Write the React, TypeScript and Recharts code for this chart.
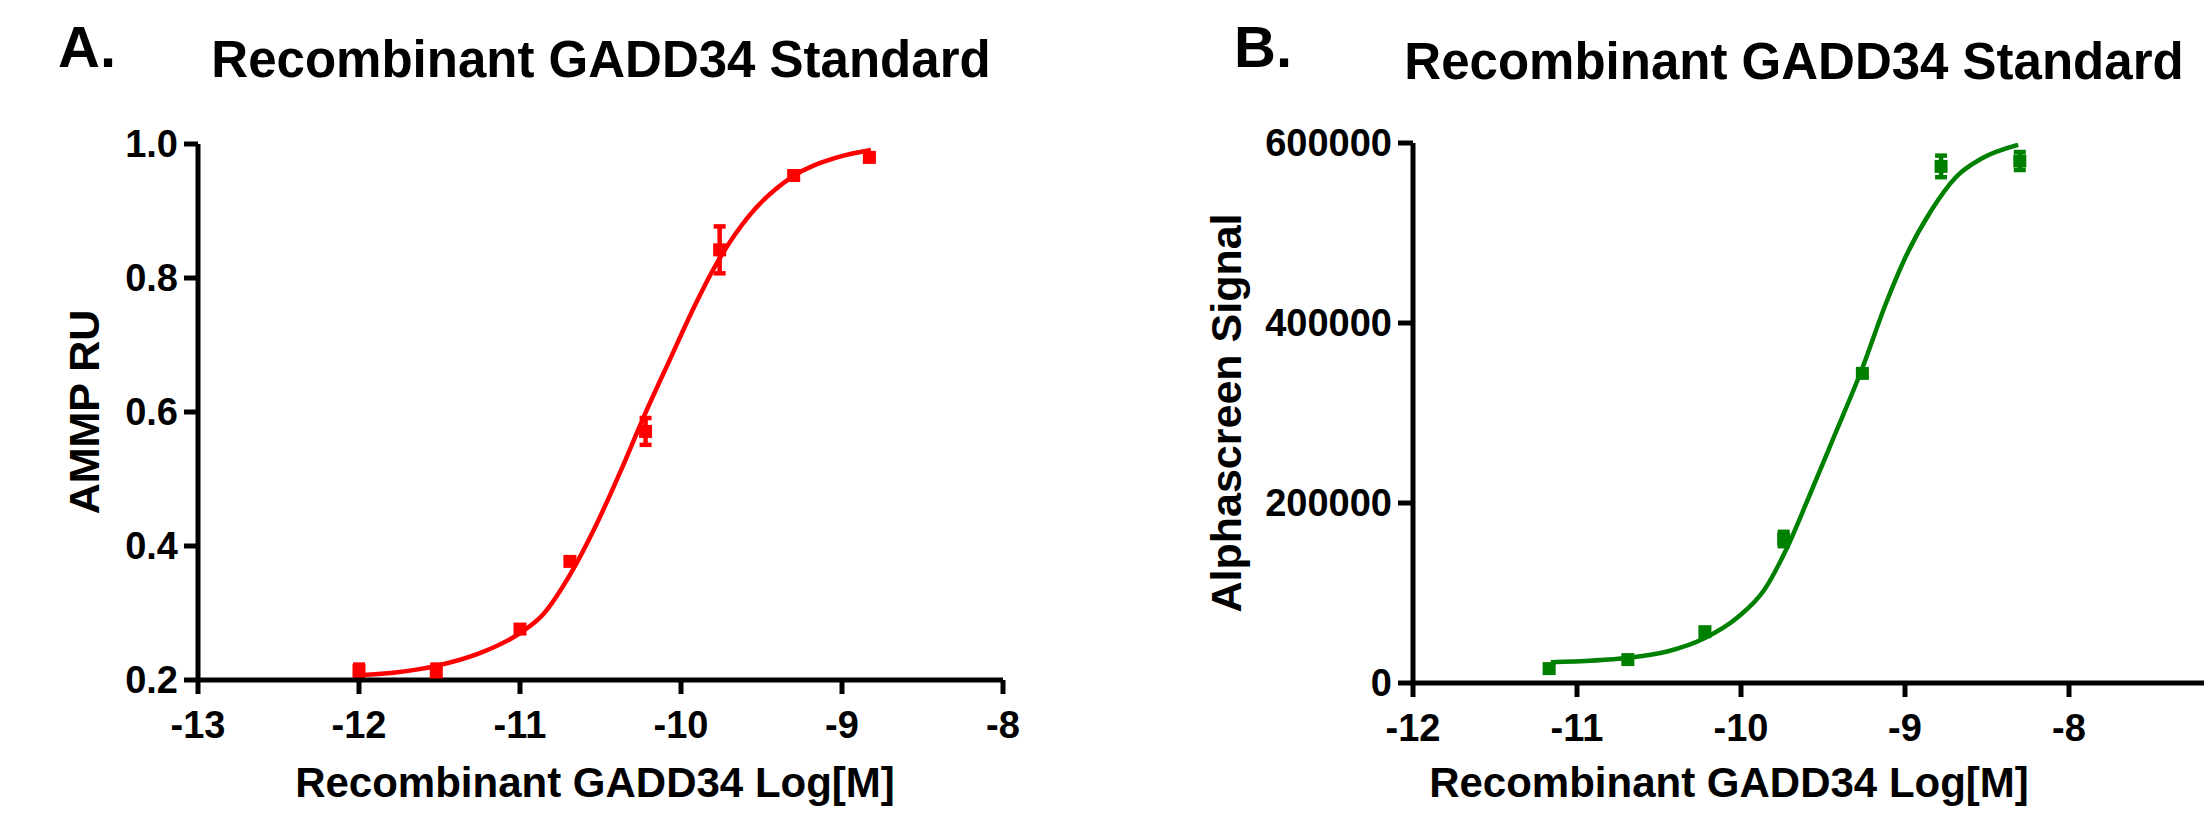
import { ComposedChart, Line, Scatter, ErrorBar, XAxis, YAxis } from 'recharts';

const FONT = '"Liberation Sans", Arial, sans-serif';

// Panel A: AMMP RU vs log concentration
const concA = [-12.0, -11.52, -11.0, -10.69, -10.22, -9.76, -9.3, -8.83];
const ammpA = [0.214, 0.212, 0.276, 0.377, 0.571, 0.842, 0.953, 0.98];
const ammpErrA = [0.009, 0.011, 0.004, 0.004, 0.02, 0.035, 0.004, 0.004];
const fitXA = [-12.0, -11.52, -11.25, -11.0, -10.86, -10.69, -10.53, -10.36, -10.24, -10.06, -9.92, -9.78, -9.58, -9.31, -9.03, -8.82];
const fitYA = [0.207, 0.221, 0.24, 0.27, 0.297, 0.357, 0.43, 0.52, 0.588, 0.683, 0.756, 0.821, 0.892, 0.951, 0.98, 0.991];
const xTicksA = [-13, -12, -11, -10, -9, -8];
const yTicksA = [0.2, 0.4, 0.6, 0.8, 1.0];

// Panel B: Alphascreen signal vs log concentration
const concB = [-11.17, -10.69, -10.22, -9.74, -9.26, -8.78, -8.3];
const signalB = [16000, 26000, 57000, 160000, 344000, 574000, 580000];
const signalErrB = [3000, 2000, 3000, 8000, 3000, 12000, 10000];
const fitXB = [-11.16, -10.69, -10.45, -10.22, -10.02, -9.86, -9.725, -9.59, -9.43, -9.26, -9.12, -9.0, -8.84, -8.69, -8.53, -8.31];
const fitYB = [23000, 28000, 35000, 50000, 73000, 103000, 148000, 205000, 275000, 350000, 420000, 472000, 525000, 562000, 583000, 598000];
const xTicksB = [-12, -11, -10, -9, -8];
const yTicksB = [0, 200000, 400000, 600000];

const pointsA = concA.map((x, i) => ({ x, y: ammpA[i], err: ammpErrA[i] }));
const curveA = fitXA.map((x, i) => ({ x, y: fitYA[i] }));
const pointsB = concB.map((x, i) => ({ x, y: signalB[i], err: signalErrB[i] }));
const curveB = fitXB.map((x, i) => ({ x, y: fitYB[i] }));

const tickStyle = { fill: '#000', fontSize: 38, fontWeight: 'bold', fontFamily: FONT };
const axisLine = { stroke: '#000', strokeWidth: 5 };

const square = (color: string) => (props: any) => (
  <rect x={props.cx - 6.5} y={props.cy - 6.5} width={13} height={13} fill={color} />
);

const yTitle = (text: string, fromAxis: number) => (props: any) => {
  const vb = props.viewBox;
  const cx = vb.x + vb.width - fromAxis;
  const cy = vb.y + vb.height / 2;
  return (
    <text x={cx} y={cy} transform={`rotate(-90 ${cx} ${cy})`} textAnchor="middle" dominantBaseline="central"
      fontSize={43} fontWeight="bold" fontFamily={FONT} fill="#000">{text}</text>
  );
};

const xTitle = (text: string, fromLeft: number, drop: number) => (props: any) => {
  const vb = props.viewBox;
  return (
    <text x={vb.x + fromLeft} y={vb.y + drop} textAnchor="middle"
      fontSize={42} fontWeight="bold" fontFamily={FONT} fill="#000">{text}</text>
  );
};

export default function App() {
  return (
    <div style={{ position: 'absolute', left: 0, top: 0, width: 2204, height: 813, overflow: 'hidden', background: '#fff' }}>
      <div style={{ position: 'absolute', left: 0, top: 0 }}>
        <ComposedChart width={1100} height={813} margin={{ top: 144, right: 97, bottom: 73, left: 48 }}>
          <XAxis type="number" dataKey="x" domain={[-13, -8]} ticks={xTicksA} allowDataOverflow height={60}
            tick={tickStyle} tickSize={14} tickMargin={17} axisLine={axisLine} tickLine={axisLine}
            label={{ content: xTitle('Recombinant GADD34 Log[M]', 397, 117) }} />
          <YAxis type="number" domain={[0.2, 1.0]} ticks={yTicksA} width={150} allowDataOverflow
            tick={tickStyle} tickSize={14} tickMargin={6} axisLine={axisLine} tickLine={axisLine}
            tickFormatter={(v: number) => v.toFixed(1)}
            label={{ content: yTitle('AMMP RU', 114) }} />
          <Line data={curveA} dataKey="y" type="monotone" stroke="#FF0000" strokeWidth={4.5} dot={false} isAnimationActive={false} />
          <Scatter data={pointsA} dataKey="y" fill="#FF0000" shape={square('#FF0000')} isAnimationActive={false}>
            <ErrorBar dataKey="err" direction="y" width={6} strokeWidth={4.5} stroke="#FF0000" />
          </Scatter>
        </ComposedChart>
      </div>
      <div style={{ position: 'absolute', left: 1100, top: 0 }}>
        <ComposedChart width={1250} height={813} margin={{ top: 143, right: 117, bottom: 70, left: 63 }}>
          <XAxis type="number" dataKey="x" domain={[-12, -7]} ticks={xTicksB} allowDataOverflow height={60}
            tick={tickStyle} tickSize={14} tickMargin={17} axisLine={axisLine} tickLine={axisLine}
            label={{ content: xTitle('Recombinant GADD34 Log[M]', 316, 114) }} />
          <YAxis type="number" domain={[0, 600000]} ticks={yTicksB} width={250} allowDataOverflow
            tick={tickStyle} tickSize={15} tickMargin={6} axisLine={axisLine} tickLine={axisLine}
            label={{ content: yTitle('Alphascreen Signal', 187) }} />
          <Line data={curveB} dataKey="y" type="monotone" stroke="#008000" strokeWidth={4.5} dot={false} isAnimationActive={false} />
          <Scatter data={pointsB} dataKey="y" fill="#008000" shape={square('#008000')} isAnimationActive={false}>
            <ErrorBar dataKey="err" direction="y" width={6} strokeWidth={4.5} stroke="#008000" />
          </Scatter>
        </ComposedChart>
      </div>
      <svg width={2204} height={813} style={{ position: 'absolute', left: 0, top: 0, pointerEvents: 'none' }}>
        <g fontFamily={FONT} fontWeight="bold" fill="#000">
          <text x={58} y={67} fontSize={58}>A.</text>
          <text x={601} y={77} fontSize={51} textAnchor="middle">Recombinant GADD34 Standard</text>
          <text x={1234} y={67} fontSize={58}>B.</text>
          <text x={1794} y={79} fontSize={51} textAnchor="middle">Recombinant GADD34 Standard</text>
        </g>
      </svg>
    </div>
  );
}
